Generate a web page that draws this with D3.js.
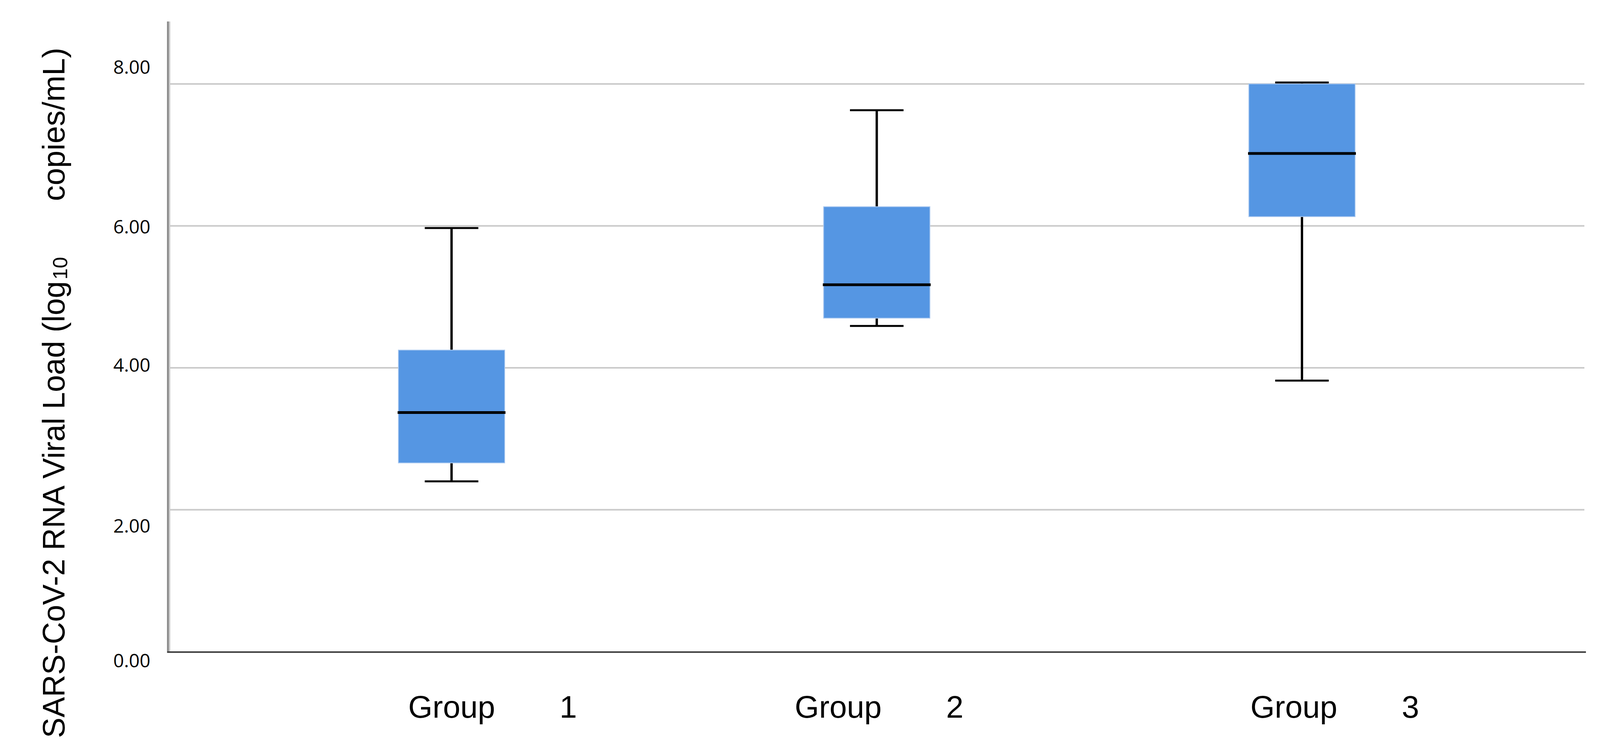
<!DOCTYPE html>
<html>
<head>
<meta charset="utf-8">
<script src="https://cdn.jsdelivr.net/npm/d3@7/dist/d3.min.js"></script>
<style>
  html, body { margin: 0; padding: 0; background: #ffffff; }
  svg { display: block; }
</style>
</head>
<body>
<svg id="chart" width="4157" height="1931"></svg>
<script>
// ---- data ----
const groups   = ["Group 1", "Group 2", "Group 3"];
const groupNames = ["Group", "Group", "Group"];
const groupNums  = ["1", "2", "3"];
const mins     = [2.40, 4.59, 3.82];
const q1s      = [2.66, 4.70, 6.13];
const medians  = [3.37, 5.17, 7.02];
const q3s      = [4.25, 6.27, 8.00];
const maxs     = [5.97, 7.63, 8.02];
const yTicks   = [0, 2, 4, 6, 8];
const yTickLabels = ["0.00", "2.00", "4.00", "6.00", "8.00"];
const yTitleMain = "SARS-CoV-2 RNA Viral Load (log";
const yTitleSub  = "10";
const yTitleEnd  = "copies/mL)";

// ---- layout ----
const svg = d3.select("#chart");
const pLeft = 431, pRight = 4058, pTop = 55, pBottom = 1669;

const x = d3.scalePoint().domain(groups).range([pLeft, pRight]).padding(0.666);
const y = d3.scaleLinear().domain([0, 8.88]).range([pBottom, pTop]);
const step = x.step();
const boxW = step * 0.25;
const capW = step * 0.126;

// gridlines
svg.append("g").selectAll("line")
  .data(yTicks.filter(d => d > 0))
  .join("line")
  .attr("x1", pLeft + 5).attr("x2", 4056)
  .attr("y1", d => y(d)).attr("y2", d => y(d))
  .attr("stroke", "#cacaca").attr("stroke-width", 4);

// y axis (labels)
const yAxis = d3.axisLeft(y).tickValues(yTicks)
  .tickFormat((d, i) => yTickLabels[i]).tickSize(0).tickPadding(46);
const gy = svg.append("g").attr("transform", `translate(${pLeft},0)`).call(yAxis);
gy.select(".domain").remove();
const labelNudge = {0: 22, 2: 41, 4: -7, 6: 2, 8: -43};
gy.selectAll(".tick text")
  .attr("font-family", "'Open Sans', sans-serif")
  .attr("font-size", 48)
  .attr("fill", "#000")
  .attr("dy", d => (labelNudge[d] + 17) + "px");

// y axis line
svg.append("line").attr("x1", pLeft - 1).attr("x2", pLeft - 1)
  .attr("y1", pTop).attr("y2", pBottom + 3)
  .attr("stroke", "#8a8a8a").attr("stroke-width", 5);
svg.append("line").attr("x1", pLeft + 3.5).attr("x2", pLeft + 3.5)
  .attr("y1", pTop).attr("y2", pBottom)
  .attr("stroke", "#cccccc").attr("stroke-width", 3);

// x axis line
svg.append("line").attr("x1", pLeft - 3).attr("x2", 4060)
  .attr("y1", pBottom + 1).attr("y2", pBottom + 1)
  .attr("stroke", "#404040").attr("stroke-width", 4);

// boxes
const data = groups.map((g, i) => ({g, min: mins[i], q1: q1s[i], med: medians[i], q3: q3s[i], max: maxs[i]}));
const bx = svg.append("g").selectAll("g").data(data).join("g");

bx.append("line") // upper whisker
  .attr("x1", d => x(d.g)).attr("x2", d => x(d.g))
  .attr("y1", d => y(d.q3)).attr("y2", d => y(d.max))
  .attr("stroke", "#000").attr("stroke-width", 6);
bx.append("line") // lower whisker
  .attr("x1", d => x(d.g)).attr("x2", d => x(d.g))
  .attr("y1", d => y(d.q1)).attr("y2", d => y(d.min))
  .attr("stroke", "#000").attr("stroke-width", 6);
bx.append("line") // top cap
  .attr("x1", d => x(d.g) - capW / 2).attr("x2", d => x(d.g) + capW / 2)
  .attr("y1", d => y(d.max)).attr("y2", d => y(d.max))
  .attr("stroke", "#000").attr("stroke-width", 5);
bx.append("line") // bottom cap
  .attr("x1", d => x(d.g) - capW / 2).attr("x2", d => x(d.g) + capW / 2)
  .attr("y1", d => y(d.min)).attr("y2", d => y(d.min))
  .attr("stroke", "#000").attr("stroke-width", 5);
bx.append("rect")
  .attr("x", d => x(d.g) - boxW / 2).attr("width", boxW)
  .attr("y", d => y(d.q3)).attr("height", d => y(d.q1) - y(d.q3))
  .attr("fill", "#5596e3")
  .attr("stroke", "#a9c8f0").attr("stroke-width", 2);
bx.append("line") // median
  .attr("x1", d => x(d.g) - boxW / 2 - 2).attr("x2", d => x(d.g) + boxW / 2 + 2)
  .attr("y1", d => y(d.med)).attr("y2", d => y(d.med))
  .attr("stroke", "#000").attr("stroke-width", 7);

// x labels
const xNudge = [105, 6, 84];
svg.append("g").selectAll("text").data(groups).join("text")
  .attr("x", (d, i) => x(d) + xNudge[i])
  .attr("y", 1838)
  .attr("text-anchor", "middle")
  .attr("font-family", "'Liberation Sans', Arial, sans-serif")
  .attr("font-size", 80)
  .attr("fill", "#000")
  .each(function(d, i) {
    const t = d3.select(this);
    t.append("tspan").text(groupNames[i]);
    t.append("tspan").attr("dx", 165).text(groupNums[i]);
  });

// y title (rotated)
const tf = "'Liberation Sans', Arial, sans-serif";
svg.append("text")
  .attr("transform", "translate(165,1890) rotate(-90)")
  .attr("font-family", tf).attr("font-size", 80).attr("fill", "#000")
  .attr("textLength", 1170).attr("lengthAdjust", "spacingAndGlyphs")
  .text(yTitleMain);
svg.append("text")
  .attr("transform", "translate(172,716) rotate(-90)")
  .attr("font-family", tf).attr("font-size", 52).attr("fill", "#000")
  .text(yTitleSub);
svg.append("text")
  .attr("transform", "translate(165,515) rotate(-90)")
  .attr("font-family", tf).attr("font-size", 80).attr("fill", "#000")
  .attr("textLength", 393).attr("lengthAdjust", "spacingAndGlyphs")
  .text(yTitleEnd);
</script>
</body>
</html>
